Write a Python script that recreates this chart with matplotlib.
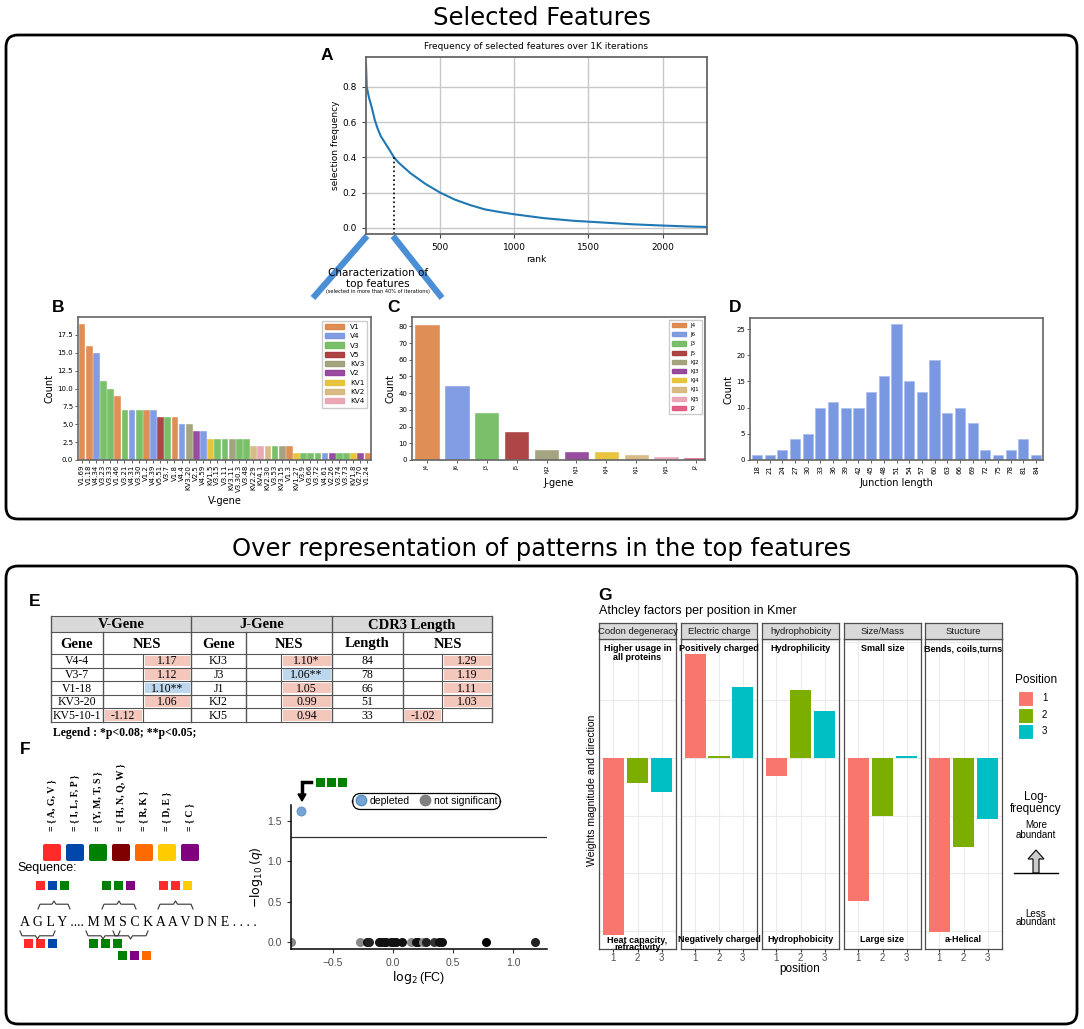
import numpy as np
import matplotlib
matplotlib.use("Agg")
import matplotlib.pyplot as plt
from matplotlib.patches import Rectangle, FancyBboxPatch, FancyArrow, Patch
from matplotlib.lines import Line2D

# ---------------- data ----------------
# A: selection frequency vs rank
rank_pts = [0, 5, 20, 40, 60, 80, 100, 130, 160, 189, 220, 260, 300, 350, 400, 450, 500,
            600, 700, 800, 900, 1000, 1200, 1400, 1600, 1800, 2000, 2200, 2300]
freq_pts = [0.93, 0.80, 0.74, 0.68, 0.61, 0.56, 0.52, 0.48, 0.44, 0.40, 0.37, 0.34, 0.31,
            0.28, 0.25, 0.225, 0.20, 0.16, 0.13, 0.105, 0.09, 0.077, 0.055, 0.04, 0.03,
            0.02, 0.013, 0.007, 0.005]
cut_rank = 189

# B: V-gene counts
v_genes = ["V1.69", "V1.18", "V4.34", "V3.23", "V3.33", "V1.46", "V3.21", "V4.31", "V3.30",
           "V1.2", "V4.39", "V5.51", "V3.7", "V1.8", "V4.4", "KV3.20", "V2.5", "V4.59",
           "KV1.5", "V3.15", "V3.11", "KV3.11", "V3.30.3", "V3.48", "KV2.29", "KV4.1",
           "KV2.30", "V3.53", "KV3.15", "V1.3", "KV1.27", "V3.9", "V3.66", "V3.72", "V4.61",
           "V2.26", "V3.74", "V3.73", "KV1.8", "V2.70", "V1.24"]
v_counts = [19, 16, 15, 11, 10, 9, 7, 7, 7, 7, 7, 6, 6, 6, 5, 5, 4, 4, 3, 3, 3, 3, 3, 3,
            2, 2, 2, 2, 2, 2, 1, 1, 1, 1, 1, 1, 1, 1, 1, 1, 1]
v_families = ["V1", "V4", "V3", "V5", "KV3", "V2", "KV1", "KV2", "KV4"]
v_fam_colors = ["#dc8244", "#7593e0", "#6cba5a", "#a63232", "#9a9a72", "#8e3a96",
                "#e6be2c", "#d4b478", "#e8a0b0"]

# C: J-gene counts
j_genes = ["J4", "J6", "J3", "J5", "KJ2", "KJ3", "KJ4", "KJ1", "KJ5", "J2"]
j_counts = [81, 44, 28, 17, 6, 5, 5, 3, 2, 1]
j_colors = ["#dc8244", "#7593e0", "#6cba5a", "#a63232", "#9a9a72", "#8e3a96",
            "#e6be2c", "#d4b478", "#e8a0b0", "#e0507a"]

# D: junction length
junc_len = [18, 21, 24, 27, 30, 33, 36, 39, 42, 45, 48, 51, 54, 57, 60, 63, 66, 69, 72, 75, 78, 81, 84]
junc_cnt = [1, 1, 2, 4, 5, 10, 11, 10, 10, 13, 16, 26, 15, 13, 19, 9, 10, 7, 2, 1, 2, 4, 1]

# E: NES table
tv_gene = ["V4-4", "V3-7", "V1-18", "KV3-20", "KV5-10-1"]
tv_nes = [1.17, 1.12, 1.10, 1.06, -1.12]
tv_sig = ["", "", "**", "", ""]
tj_gene = ["KJ3", "J3", "J1", "KJ2", "KJ5"]
tj_nes = [1.10, 1.06, 1.05, 0.99, 0.94]
tj_sig = ["*", "**", "", "", ""]
tc_len = ["84", "78", "66", "51", "33"]
tc_nes = [1.29, 1.19, 1.11, 1.03, -1.02]
tc_sig = ["", "", "", "", ""]

# F: amino-acid groups and volcano
aa_groups = ["= { A, G, V }", "= { I, L, F, P }", "= {Y, M, T, S }", "= { H, N, Q, W }",
             "= { R, K }", "= { D, E }", "= { C }"]
aa_colors = ["#ff2a2a", "#0047ab", "#008000", "#800000", "#ff6a00", "#ffcc00", "#800080"]
dep_x, dep_y = [-0.77], [1.62]
ns_x = [-0.85, -0.28, -0.22, -0.20, -0.12, -0.10, -0.08, -0.06, -0.02, 0.00, 0.02, 0.07,
        0.15, 0.19, 0.21, 0.25, 0.27, 0.34, 0.38, 0.41, 0.77, 1.18]
ns_y = [0.0] * len(ns_x)
ns_col = ["#888888", "#888888", "#111111", "#222222", "#111111", "#111111", "#111111",
          "#111111", "#111111", "#111111", "#111111", "#111111", "#888888", "#111111",
          "#111111", "#888888", "#222222", "#333333", "#111111", "#111111", "#000000", "#222222"]
q_cut = 1.3

# G: Atchley factors
factors = ["Codon degeneracy", "Electric charge", "hydrophobicity", "Size/Mass", "Stucture"]
top_note = ["Higher usage in\nall proteins", "Positively charged", "Hydrophilicity",
            "Small size", "Bends, coils,turns"]
bot_note = ["Heat capacity,\nrefractivity", "Negatively charged", "Hydrophobicity",
            "Large size", "a-Helical"]
weights = [[-3.07, -0.43, -0.59],
           [1.80, 0.04, 1.23],
           [-0.31, 1.18, 0.81],
           [-2.48, -1.00, 0.035],
           [-3.02, -1.54, -1.06]]
pos_colors = ["#F8766D", "#7CAE00", "#00BFC4"]

# ---------------- layout helpers ----------------
W, H = 1084, 1029
fig = plt.figure(figsize=(W / 100, H / 100), dpi=100)


def rect(l, t, r, b):
    return [l / W, 1 - b / H, (r - l) / W, (b - t) / H]


ov = fig.add_axes([0, 0, 1, 1])
ov.set_xlim(0, W)
ov.set_ylim(H, 0)
ov.axis("off")

sans = "DejaVu Sans"
arial = "Liberation Sans"
serif = "Liberation Serif"

# boxes and section titles
for top, bot in [(35, 519), (566, 1024)]:
    ov.add_patch(FancyBboxPatch((6, top), 1071, bot - top, boxstyle="round,pad=0,rounding_size=12",
                                fill=False, lw=2, ec="black"))
ov.text(542, 18, "Selected Features", fontsize=17.5, ha="center", va="center", family=sans)
ov.text(542, 549, "Over representation of patterns in the top features", fontsize=17.5,
        ha="center", va="center", family=sans)

for lab, x, y in [("A", 327, 55), ("B", 58, 308), ("C", 393, 308), ("D", 735, 308),
                  ("E", 35, 602), ("F", 25, 750), ("G", 605, 596)]:
    ov.text(x, y, lab, fontsize=12.5, weight="bold", ha="center", va="center", family=arial)

# ---------------- A ----------------
axA = fig.add_axes(rect(366, 57, 707, 234))
axA.plot(rank_pts, freq_pts, color="#1f77b4", lw=1.5)
axA.plot([cut_rank, cut_rank], [-0.035, 0.40], color="black", ls=":", lw=1.2)
axA.set_xlim(0, 2300)
axA.set_ylim(-0.035, 0.97)
axA.set_xticks([500, 1000, 1500, 2000])
axA.set_yticks([0.0, 0.2, 0.4, 0.6, 0.8])
axA.grid(True, color="#c8c8c8", lw=1)
axA.tick_params(labelsize=6.5, length=3, color="#444")
axA.set_xlabel("rank", fontsize=6.5, labelpad=2)
axA.set_ylabel("selection frequency", fontsize=6.5, labelpad=2)
axA.set_title("Frequency of selected features over 1K iterations", fontsize=6.5, pad=6)
for s in axA.spines.values():
    s.set_color("#666")
    s.set_linewidth(1.3)

ov.plot([367, 313], [236, 298], color="#4a8fd6", lw=4.5, solid_capstyle="butt")
ov.plot([393, 442], [236, 298], color="#4a8fd6", lw=4.5, solid_capstyle="butt")
ov.text(378, 273, "Characterization of", fontsize=7.5, ha="center", va="center", family=sans)
ov.text(378, 284, "top features", fontsize=7.5, ha="center", va="center", family=sans)
ov.text(378, 292, "(selected in more than 40% of iterations)", fontsize=3.6, ha="center",
        va="center", family=sans)


def style_bar_axes(ax):
    for s in ax.spines.values():
        s.set_color("#666")
        s.set_linewidth(1.2)
    ax.tick_params(length=2, width=0.6, color="#444", pad=1.5)


# ---------------- B ----------------
axB = fig.add_axes(rect(78, 317, 371, 460))
fam_col = dict(zip(v_families, v_fam_colors))
bcols = [fam_col[g.split(".")[0]] for g in v_genes]
axB.bar(range(len(v_genes)), v_counts, width=0.8, color=bcols, alpha=0.9, edgecolor=bcols, lw=0.4)
axB.set_xlim(-0.5, len(v_genes) - 0.5)
axB.set_ylim(0, 20)
axB.set_yticks(np.arange(0, 18, 2.5))
axB.set_xticks(range(len(v_genes)))
axB.set_xticklabels(v_genes, rotation=90, fontsize=5)
axB.tick_params(axis="y", labelsize=5)
axB.set_xlabel("V-gene", fontsize=7, labelpad=3)
axB.set_ylabel("Count", fontsize=7, labelpad=2)
style_bar_axes(axB)
axB.legend([Patch(fc=c, ec=c, alpha=0.9) for c in v_fam_colors], v_families, loc="upper right",
           fontsize=5.2, handlelength=2.6, handleheight=0.7, labelspacing=0.45, borderpad=0.45,
           framealpha=1, edgecolor="#ccc", fancybox=False)

# ---------------- C ----------------
axC = fig.add_axes(rect(412, 317, 705, 460))
axC.bar(range(len(j_genes)), j_counts, width=0.78, color=j_colors, alpha=0.9,
        edgecolor=j_colors, lw=0.4)
axC.set_xlim(-0.5, 9.3)
axC.set_ylim(0, 85.6)
axC.set_yticks(range(0, 81, 10))
axC.set_xticks(range(len(j_genes)))
axC.set_xticklabels(j_genes, rotation=90, fontsize=4)
axC.tick_params(axis="y", labelsize=5)
axC.set_xlabel("J-gene", fontsize=7, labelpad=3)
axC.set_ylabel("Count", fontsize=7, labelpad=2)
style_bar_axes(axC)
axC.legend([Patch(fc=c, ec=c, alpha=0.9) for c in j_colors], j_genes, loc="upper right",
           fontsize=4, handlelength=2.6, handleheight=0.8, labelspacing=0.75, borderpad=0.55,
           framealpha=1, edgecolor="#ccc", fancybox=False)

# ---------------- D ----------------
axD = fig.add_axes(rect(750, 318, 1043, 460))
axD.bar(range(len(junc_len)), junc_cnt, width=0.8, color="#7393e0", alpha=0.95,
        edgecolor="#a9bcef", lw=0.5)
axD.set_xlim(-0.55, len(junc_len) - 0.45)
axD.set_ylim(0, 27.1)
axD.set_yticks(range(0, 26, 5))
axD.set_xticks(range(len(junc_len)))
axD.set_xticklabels([str(v) for v in junc_len], rotation=90, fontsize=5)
axD.tick_params(axis="y", labelsize=5)
axD.set_xlabel("Junction length", fontsize=7, labelpad=3)
axD.set_ylabel("Count", fontsize=7, labelpad=2)
style_bar_axes(axD)

# ---------------- E (table) ----------------
cols = [51, 103, 191, 246, 332, 403, 492]
splits = [143, 281, 442]
h1_top, h1_bot, h2_bot = 616, 632, 654
row_h = 13.6
ov.add_patch(Rectangle((cols[0], h1_top), cols[-1] - cols[0], h1_bot - h1_top, fc="#d9d9d9",
                       ec="none"))
for txt, a, b in [("V-Gene", cols[0], cols[2]), ("J-Gene", cols[2], cols[4]),
                  ("CDR3 Length", cols[4], cols[6])]:
    ov.text((a + b) / 2, (h1_top + h1_bot) / 2 + 1, txt, fontsize=10.5, weight="bold",
            family=serif, ha="center", va="center")
for txt, a, b in [("Gene", cols[0], cols[1]), ("NES", cols[1], cols[2]),
                  ("Gene", cols[2], cols[3]), ("NES", cols[3], cols[4]),
                  ("Length", cols[4], cols[5]), ("NES", cols[5], cols[6])]:
    ov.text((a + b) / 2, (h1_bot + h2_bot) / 2 + 1, txt, fontsize=10.5, weight="bold",
            family=serif, ha="center", va="center")

blocks = [(tv_gene, tv_nes, tv_sig, 0), (tj_gene, tj_nes, tj_sig, 2), (tc_len, tc_nes, tc_sig, 4)]
for names, nes, sig, ci in blocks:
    a, m, b, c = cols[ci], cols[ci + 1], splits[ci // 2], cols[ci + 2]
    for r in range(len(names)):
        top = h2_bot + r * row_h
        cy = top + row_h / 2 + 0.5
        ov.text((a + m) / 2, cy, names[r], fontsize=8.5, family=serif, ha="center", va="center")
        x0, x1 = (m, b) if nes[r] < 0 else (b, c)
        fc = "#bdd7ee" if sig[r] == "**" else "#f4c7bd"
        ov.add_patch(Rectangle((x0 + 1.5, top + 1.5), x1 - x0 - 3, row_h - 3, fc=fc, ec="none"))
        ov.text((x0 + x1) / 2, cy, f"{nes[r]:.2f}{sig[r]}", fontsize=8.5, family=serif,
                ha="center", va="center")
        ov.plot([b, b], [top, top + row_h], color="#555", lw=0.8)
tab_bot = h2_bot + len(tv_gene) * row_h
for y in [h1_top, h1_bot, h2_bot] + [h2_bot + r * row_h for r in range(1, 6)]:
    ov.plot([cols[0], cols[-1]], [y, y], color="#555", lw=0.8)
for i, x in enumerate(cols):
    y0 = h1_top if i in (0, 2, 4, 6) else h1_bot
    ov.plot([x, x], [y0, tab_bot], color="#555", lw=1.0)
ov.text(53, 733, "Legend : *p<0.08; **p<0.05;", fontsize=8.5, weight="bold", family=serif,
        ha="left", va="center")

# ---------------- F (schematic) ----------------
sq_x = [52, 75, 98, 121, 144, 167, 190]
for i, (lab, col) in enumerate(zip(aa_groups, aa_colors)):
    ov.text(sq_x[i], 831, lab, rotation=90, fontsize=7, weight="bold", family=serif,
            ha="center", va="bottom")
    ov.add_patch(FancyBboxPatch((sq_x[i] - 9, 844), 18, 17,
                                boxstyle="round,pad=0,rounding_size=2", fc=col, ec="none"))
ov.text(17, 868, "Sequence:", fontsize=9, family=arial, ha="left", va="center")


def small_sq(xs, y, colors):
    for x, c in zip(xs, colors):
        ov.add_patch(Rectangle((x - 4.5, y - 4.5), 9, 9, fc=c, ec="none"))


def brace(x0, x1, y, h):
    mid = (x0 + x1) / 2
    ov.plot([x0, x0 + 2, mid - 2, mid, mid + 2, x1 - 2, x1],
            [y, y - h * 0.6, y - h * 0.6, y - h, y - h * 0.6, y - h * 0.6, y],
            color="#333", lw=0.8)


red, blue, green, purple, orange, yellow = (aa_colors[0], aa_colors[1], aa_colors[2],
                                            aa_colors[6], aa_colors[4], aa_colors[5])
small_sq([40, 52, 64], 885, [red, blue, green])
small_sq([106, 118, 130], 885, [green, green, purple])
small_sq([163, 175, 187], 885, [red, red, yellow])
brace(38, 70, 909, 8)
brace(102, 136, 909, 8)
brace(158, 193, 909, 8)
ov.text(20, 922, "A G L Y .... M M S C K A A V D N E . . . .", fontsize=10, family=serif,
        ha="left", va="center")
brace(20, 55, 931, -8)
brace(86, 120, 931, -8)
brace(113, 148, 931, -8)
small_sq([28, 40, 52], 943, [red, red, blue])
small_sq([93, 105, 117], 943, [green, green, green])
small_sq([122, 134, 146], 955, [green, purple, orange])

# ---------------- F (volcano) ----------------
axF = fig.add_axes(rect(291, 805, 547, 949))
axF.axhline(q_cut, color="#333", lw=0.9)
for x, y, c in zip(ns_x, ns_y, ns_col):
    axF.plot(x, y, ls="none", marker="o", ms=6.5, mec="none", color=c)
axF.plot(dep_x, dep_y, ls="none", marker="o", ms=6.5, mfc="#74a3d4", mec="#5b8fc4", mew=0.6)
axF.set_xlim(-0.85, 1.28)
axF.set_ylim(-0.087, 1.70)
axF.set_xticks([-0.5, 0.0, 0.5, 1.0])
axF.set_yticks([0.0, 0.5, 1.0, 1.5])
for s in ["top", "right"]:
    axF.spines[s].set_visible(False)
for s in ["left", "bottom"]:
    axF.spines[s].set_linewidth(1.1)
axF.tick_params(labelsize=7.5, labelcolor="#4d4d4d", length=3, color="#333")
for t in axF.get_xticklabels() + axF.get_yticklabels():
    t.set_family(arial)
axF.set_xlabel(r"$\log_2$(FC)", fontsize=9, family=arial, labelpad=1)
axF.set_ylabel(r"$-\log_{10}(q)$", fontsize=9, family=arial, labelpad=2)
leg = axF.legend([Line2D([], [], ls="none", marker="o", ms=7.5, mfc="#74a3d4", mec="#5b8fc4"),
                  Line2D([], [], ls="none", marker="o", ms=7.5, color="#808080")],
                 ["depleted", "not significant"], ncol=2, loc="center",
                 bbox_to_anchor=(426 / W, 1 - 801 / H), bbox_transform=fig.transFigure,
                 handletextpad=0.3, columnspacing=0.8, borderpad=0.25,
                 handlelength=1.2, framealpha=1, edgecolor="black", fancybox=True,
                 prop={"family": arial, "size": 7.5})
leg.get_frame().set_linewidth(0.9)
leg.get_frame().set_boxstyle("round,pad=0,rounding_size=0.8")
ov.plot([311, 302, 302], [782, 782, 795], color="black", lw=2.5, solid_joinstyle="miter")
ov.add_patch(FancyArrow(302, 794, 0, 7, width=0, head_width=8, head_length=7, fc="black",
                        ec="black", length_includes_head=True))
small_sq([320, 331, 342], 782, [green, green, green])

# ---------------- G ----------------
fig.text(599 / W, 1 - 611 / H, "Athcley factors per position in Kmer", fontsize=9,
         family=arial, ha="left", va="center")
g_left = [599, 681, 762, 844, 925]
g_right = [676, 757, 839, 921, 1002]
for i in range(len(factors)):
    ax = fig.add_axes(rect(g_left[i], 639, g_right[i], 949))
    ax.set_xlim(0.4, 3.6)
    ax.set_ylim(-3.31, 2.06)
    for y in [-3, -2, -1, 0, 1, 2]:
        ax.axhline(y, color="#ebebeb", lw=0.8, zorder=0)
    for x in [1, 2, 3]:
        ax.axvline(x, color="#ebebeb", lw=0.8, zorder=0)
    ax.bar([1, 2, 3], weights[i], width=0.9, color=pos_colors, zorder=2)
    ax.set_xticks([1, 2, 3])
    ax.set_yticks([])
    ax.tick_params(axis="x", labelsize=7, labelcolor="#4d4d4d", length=2, color="#333", pad=1)
    for t in ax.get_xticklabels():
        t.set_family(arial)
    for s in ax.spines.values():
        s.set_color("#4d4d4d")
        s.set_linewidth(0.9)
    ax.text(2, 1.97, top_note[i], fontsize=6.5, weight="bold", family=arial, ha="center",
            va="top", linespacing=1.0, zorder=3)
    ax.text(2, -3.22, bot_note[i], fontsize=6.5, weight="bold", family=arial, ha="center",
            va="bottom" if "\n" not in bot_note[i] else "center", linespacing=0.75, zorder=3)
    st = fig.add_axes(rect(g_left[i], 623, g_right[i], 639))
    st.set_xticks([])
    st.set_yticks([])
    st.set_facecolor("#d9d9d9")
    for s in st.spines.values():
        s.set_color("#4d4d4d")
        s.set_linewidth(0.9)
    st.text(0.5, 0.45, factors[i], fontsize=6.8, family=arial, color="#1a1a1a", ha="center",
            va="center", transform=st.transAxes)
fig.text(800 / W, 1 - 969 / H, "position", fontsize=8.5, family=arial, ha="center", va="center")
fig.text(592 / W, 1 - 790 / H, "Weights magnitude and direction", fontsize=7.5, family=arial,
         rotation=90, ha="center", va="center")

ov.text(1036, 680, "Position", fontsize=8.5, family=arial, ha="center", va="center")
for k, (c, yc) in enumerate(zip(pos_colors, [698, 715, 731])):
    ov.add_patch(Rectangle((1018, yc - 7.5), 15, 15, fc=c, ec="white", lw=0.8))
    ov.text(1042, yc, str(k + 1), fontsize=7, family=arial, ha="left", va="center")
ov.text(1036, 803, "Log-\nfrequency", fontsize=8.5, family=arial, ha="center", va="center",
        linespacing=1.0)
ov.text(1036, 830, "More\nabundant", fontsize=7, family=arial, ha="center", va="center",
        linespacing=1.0)
ov.add_patch(FancyArrow(1036, 873, 0, -23, width=6, head_width=16, head_length=9, fc="#cccccc",
                        ec="black", lw=0.8, length_includes_head=True))
ov.plot([1014, 1058], [873, 873], color="black", lw=1)
ov.text(1036, 918, "Less\nabundant", fontsize=7, family=arial, ha="center", va="center",
        linespacing=0.8)

fig.savefig("out.png", dpi=100)
